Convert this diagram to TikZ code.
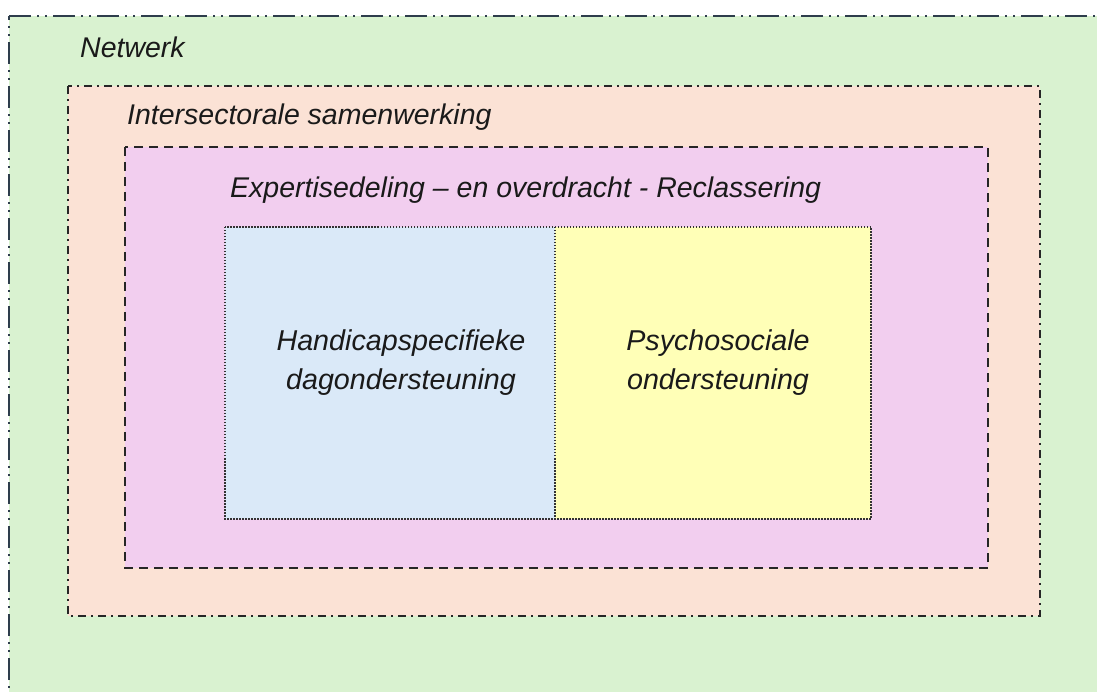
\documentclass[tikz,border=0pt]{standalone}
\usepackage{fontspec}
\setmainfont{Liberation Sans}
\definecolor{netgreen}{HTML}{D9F2D0}
\definecolor{intorange}{HTML}{FBE2D5}
\definecolor{exppink}{HTML}{F2CEEF}
\definecolor{hblue}{HTML}{DAE9F8}
\definecolor{pyellow}{HTML}{FFFFB7}
\definecolor{slate}{HTML}{2E3D4C}
\definecolor{txt}{HTML}{1A1A1A}
\tikzset{
  lbl/.style={font=\fontsize{28.5}{34}\selectfont\itshape, text=txt, inner sep=0pt},
  innerlbl/.style={font=\fontsize{28.7}{39}\selectfont\itshape, text=txt, align=center, inner sep=0pt},
  netbox/.style={fill=netgreen, draw=slate, line width=2.8pt, dash pattern=on 22pt off 6pt on 2pt off 6pt on 2pt off 6pt},
  intbox/.style={fill=intorange, draw=black!85, line width=2.5pt, dash pattern=on 8pt off 5pt on 2pt off 5pt},
  expbox/.style={fill=exppink, draw=black!85, line width=2.5pt, dash pattern=on 9pt off 6pt},
  innerbox/.style={draw=black!80, line width=1.6pt, dash pattern=on 1.5pt off 1.5pt}
}
\begin{document}
\begin{tikzpicture}[x=1pt,y=1pt]
\useasboundingbox (0,0) rectangle (1097,691);
\fill[white] (0,0) rectangle (1097,691);
\begin{scope}
\clip (0,0) rectangle (1097,691);
\draw[netbox] (9,675) -- (1120,675) -- (1120,-20) -- (9,-20) -- cycle;
\end{scope}
\draw[intbox] (68,605) rectangle (1040,75);
\draw[expbox] (125,544) rectangle (988,123);
\fill[hblue] (225,464) rectangle (555,172);
\fill[pyellow] (555,464) rectangle (871,172);
\draw[innerbox] (225,464) rectangle (871,172);
\draw[innerbox] (555,464) -- (555,172);
\node[lbl, anchor=west] (net) at (80,644) {Netwerk};
\node[lbl, anchor=west] (int) at (127,574) {Intersectorale samenwerking};
\node[lbl, anchor=west] (exp) at (230,501) {Expertisedeling – en overdracht - Reclassering};
\node[innerlbl] (hand) at (401,328) {Handicapspecifieke\\dagondersteuning};
\node[innerlbl] (psy) at (718,328) {Psychosociale\\ondersteuning};
\end{tikzpicture}
\end{document}
